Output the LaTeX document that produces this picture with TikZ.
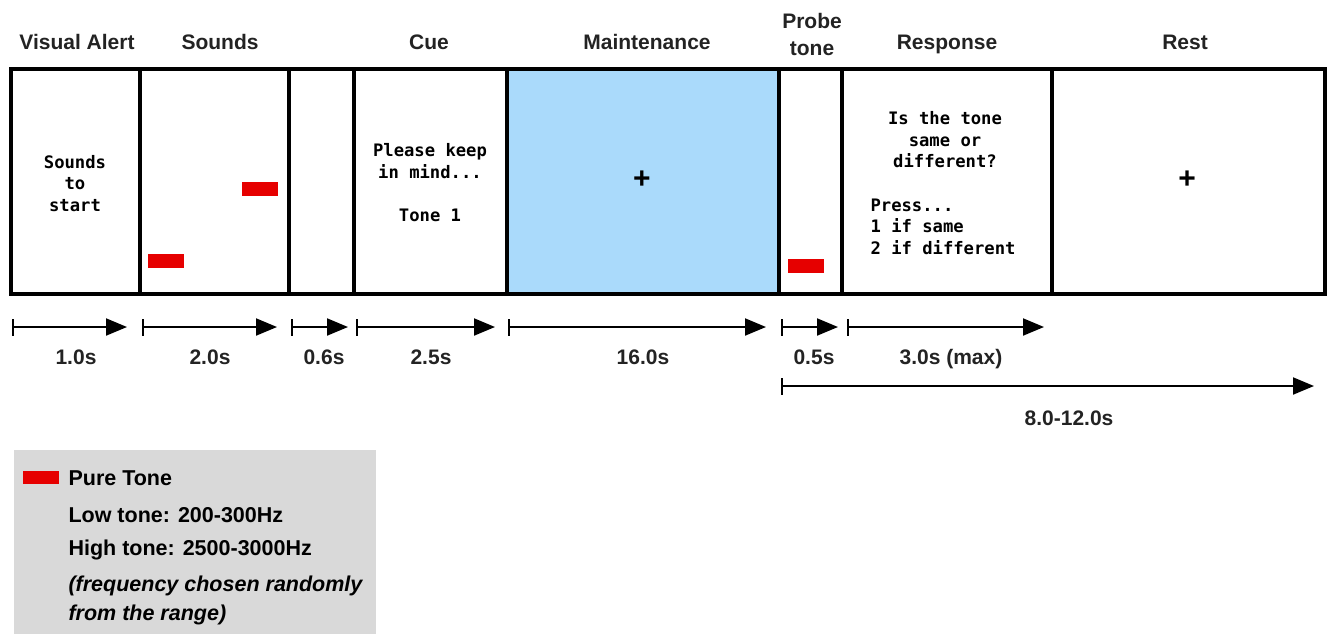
\documentclass[tikz,border=0pt]{standalone}
\usepackage{fontspec}
\setmainfont{Liberation Sans}
\setmonofont{DejaVu Sans Mono}
\usetikzlibrary{arrows.meta,positioning}
\definecolor{tonered}{RGB}{230,0,0}
\definecolor{holdblue}{RGB}{170,218,251}
\definecolor{legendgray}{RGB}{217,217,217}
\definecolor{ink}{RGB}{35,35,35}
\tikzset{
	panel/.style={draw,rectangle,line width=4.5pt,inner sep=0pt,minimum height=225pt},
	tone/.style={fill=tonered,rectangle,inner sep=0pt,minimum width=36pt,minimum height=14pt},
	head/.style={text=ink,font=\fontsize{21}{27}\selectfont\bfseries,align=center},
	screen/.style={font=\fontsize{17.2}{21.5}\selectfont\ttfamily\bfseries,align=center},
	fix/.style={font=\fontsize{30}{30}\selectfont\bfseries},
	tspan/.style={line width=2pt,{Bar[width=17pt]}-{Triangle[length=21pt,width=17pt]}},
	tlabel/.style={text=ink,font=\fontsize{21}{25}\selectfont\bfseries,text height=15pt,text depth=0pt},
	legtext/.style={anchor=west,font=\fontsize{21.5}{29}\selectfont\bfseries,align=left}
}

\begin{document}
\begin{tikzpicture}[x=1pt,y=-1pt]
            \useasboundingbox (0,0) rectangle (1328,633);
            % trial screens
            \node[panel,minimum width=129pt] (vis) at (75.5,181.5) {};
            \node[panel,minimum width=149pt] (snd) at (214.5,181.5) {};
            \node[panel,minimum width=65pt] (gap) at (321.5,181.5) {};
            \node[panel,minimum width=153pt] (cue) at (430.5,181.5) {};
            \node[panel,fill=holdblue,minimum width=272pt] (mnt) at (643,181.5) {};
            \node[panel,minimum width=63pt] (prb) at (810.5,181.5) {};
            \node[panel,minimum width=210pt] (rsp) at (947,181.5) {};
            \node[panel,minimum width=273pt] (rst) at (1188.5,181.5) {};
            % headings
            \node[head] (hvis) at (77,42) {Visual Alert};
            \node[head] (hsnd) at (220,42) {Sounds};
            \node[head] (hcue) at (429,42) {Cue};
            \node[head] (hmnt) at (647,42) {Maintenance};
            \node[head] (hprb) at (812,34) {Probe\\tone};
            \node[head] (hrsp) at (947,44) {Response};
            \node[head] (hrst) at (1185,42) {Rest};
            % screen contents
            \node[screen] (vistxt) at (75,183.5) {Sounds\\to\\start};
            \node[tone] (low) at (165.5,261) {};
            \node[tone] (high) at (260,189) {};
            \node[screen] (cuetxt) at (430,182.5) {Please keep\\in mind...\\[21.5pt]Tone 1};
            \node[fix] (plus1) at (642,180) {+};
            \node[tone] (probe) at (806,265.5) {};
            \node[screen] (ask) at (945,140) {Is the tone\\same or\\different?};
            \node[screen,align=left,anchor=west] (keys) at (867,226.5) {Press...\\1 if same\\2 if different};
            \node[fix] (plus2) at (1187,180) {+};
            % durations
            \coordinate (s1) at (12,327);  \coordinate (e1) at (127,327);
            \coordinate (s2) at (142,327); \coordinate (e2) at (277,327);
            \coordinate (s3) at (291,327); \coordinate (e3) at (348,327);
            \coordinate (s4) at (356,327); \coordinate (e4) at (495,327);
            \coordinate (s5) at (508,327); \coordinate (e5) at (766,327);
            \coordinate (s6) at (781,327); \coordinate (e6) at (838,327);
            \coordinate (s7) at (847,327); \coordinate (e7) at (1044,327);
            \coordinate (s8) at (781,386); \coordinate (e8) at (1314,386);
            \draw[tspan] (s1) -- (e1);
            \draw[tspan] (s2) -- (e2);
            \draw[tspan] (s3) -- (e3);
            \draw[tspan] (s4) -- (e4);
            \draw[tspan] (s5) -- (e5);
            \draw[tspan] (s6) -- (e6);
            \draw[tspan] (s7) -- (e7);
            \draw[tspan] (s8) -- (e8);
            \node[tlabel] (d1) at (76,357) {1.0s};
            \node[tlabel] (d2) at (210,357) {2.0s};
            \node[tlabel] (d3) at (324,357) {0.6s};
            \node[tlabel] (d4) at (431,357) {2.5s};
            \node[tlabel] (d5) at (643,357) {16.0s};
            \node[tlabel] (d6) at (814,357) {0.5s};
            \node[tlabel] (d7) at (951,357) {3.0s (max)};
            \node[tlabel] (d8) at (1069,418) {8.0-12.0s};
            % legend
            \node[fill=legendgray,rectangle,inner sep=0pt,minimum width=362pt,minimum height=185pt] (legend) at (195,542.5) {};
            \node[tone,minimum height=13pt] (key) at (41,477.5) {};
            \node[legtext] (kname) at (65,478) {Pure Tone};
            \node[legtext] (klow) at (65,515) {Low tone: 200-300Hz};
            \node[legtext] (khigh) at (65,550) {High tone: 2500-3000Hz};
            \node[legtext,font=\fontsize{21.5}{29}\selectfont\bfseries\itshape] (knote) at (65,600.5) {(frequency chosen randomly\\from the range)};
        \end{tikzpicture}
\end{document}
